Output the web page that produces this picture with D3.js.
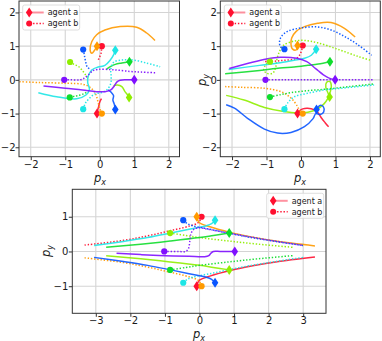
<!DOCTYPE html>
<html><head><meta charset="utf-8">
<script src="https://cdn.jsdelivr.net/npm/d3@7"></script>
<style>body{margin:0;background:#fff}svg{display:block}text{font-family:"DejaVu Sans",sans-serif;fill:#1a1a1a}</style>
</head><body><svg id="c" width="382" height="341"></svg>
<script>
// ---------------- data ----------------
const agents = ["red","orange","yellowgreen","green","cyan","blue","purple"];
const legendLabels = ["agent a","agent b"];
const topTicks = [-2,-1,0,1,2];
const bottomXTicks = [-3,-2,-1,0,1,2,3];
const bottomYTicks = [-1,0,1];

// panel 1 (top-left): agent a paths (solid, start = diamond)
const p1A = [
  [[-0.08,-1.0],[-0.06,-0.9],[-0.03,-0.78],[0.0,-0.66],[0.05,-0.56]],
  [[-0.08,1.0],[-0.15,0.88],[-0.23,0.79],[-0.28,0.89],[-0.23,1.14],[-0.09,1.34],[0.15,1.48],[0.59,1.58],[1.07,1.56],[1.36,1.39],[1.6,1.17]],
  [[0.85,-0.52],[0.8,-0.44],[0.73,-0.35],[0.64,-0.2],[0.51,-0.15],[0.4,-0.17]],
  [[0.86,0.54],[0.64,0.5],[0.45,0.46],[0.32,0.4],[0.2,0.32]],
  [[0.45,0.88],[0.4,0.74],[0.3,0.58],[0.15,0.43],[-0.05,0.38],[-0.22,0.3],[-0.33,0.12],[-0.35,-0.08],[-0.3,-0.28],[-0.4,-0.45],[-0.67,-0.56],[-1.25,-0.5],[-1.78,-0.38]],
  [[0.45,-0.88],[0.42,-0.72],[0.38,-0.6],[0.4,-0.47],[0.33,-0.37],[0.24,-0.3]],
  [[1.0,0.0],[0.8,0.0],[0.59,-0.01],[0.5,-0.06],[0.42,-0.18],[0.32,-0.3],[0.15,-0.35],[-0.1,-0.35],[-0.5,-0.3],[-1.0,-0.25],[-1.63,-0.18]]
];
// panel 1: agent b paths (dotted, start = circle)
const p1B = [
  [[0.06,1.0],[0.05,0.88],[0.03,0.76],[-0.02,0.65],[-0.05,0.57]],
  [[0.06,-1.0],[0.0,-0.85],[-0.06,-0.62],[-0.12,-0.42],[-0.28,-0.22],[-0.5,-0.13],[-0.96,-0.1],[-1.73,-0.08],[-2.4,-0.05]],
  [[-0.86,0.53],[-0.75,0.46],[-0.62,0.4],[-0.48,0.25],[-0.38,0.1],[-0.32,0.04]],
  [[-0.87,-0.52],[-0.7,-0.48],[-0.57,-0.45],[-0.44,-0.4],[-0.33,-0.33]],
  [[-0.48,-0.87],[-0.42,-0.7],[-0.3,-0.55],[-0.15,-0.42],[0.05,-0.38],[0.22,-0.28],[0.32,-0.1],[0.33,0.1],[0.32,0.3],[0.4,0.52],[0.65,0.59],[0.97,0.59],[1.35,0.5],[1.75,0.39]],
  [[-0.48,0.9],[-0.45,0.76],[-0.43,0.64],[-0.4,0.5],[-0.36,0.38],[-0.25,0.3]],
  [[-1.03,0.0],[-0.8,0.0],[-0.57,0.0],[-0.45,0.05],[-0.33,0.15],[-0.2,0.27],[-0.05,0.31],[0.39,0.3],[0.88,0.25],[1.2,0.23],[1.63,0.21]]
];

// panel 2 (top-right)
const p2A = [
  [[-0.1,-1.0],[-0.04,-0.92],[0.05,-0.86],[0.19,-0.84],[0.39,-0.89],[0.5,-0.98],[0.6,-1.14],[0.7,-1.27],[0.8,-1.39]],
  [[-0.1,1.02],[-0.14,0.89],[-0.25,0.92],[-0.29,1.05],[-0.27,1.24],[-0.14,1.44],[0.1,1.58],[0.48,1.68],[0.87,1.7],[1.26,1.53],[1.57,1.27]],
  [[0.83,-0.51],[0.78,-0.38],[0.72,-0.22],[0.74,-0.08],[0.84,-0.05],[0.88,-0.18],[0.85,-0.35],[0.78,-0.55],[0.66,-0.72],[0.45,-0.88],[0.2,-0.96],[-0.1,-0.98],[-0.5,-0.94],[-1.06,-0.82],[-1.65,-0.6],[-2.17,-0.46]],
  [[0.84,0.54],[0.5,0.47],[0.2,0.43],[-0.2,0.38],[-0.61,0.35],[-1.2,0.28],[-2.2,0.18]],
  [[0.44,0.91],[0.3,0.73],[0.1,0.64],[-0.2,0.58],[-0.6,0.51],[-1.2,0.43],[-2.1,0.31]],
  [[0.45,-0.88],[0.55,-0.76],[0.65,-0.8],[0.66,-0.95],[0.56,-1.03],[0.43,-1.0],[0.35,-1.15],[0.1,-1.39],[-0.29,-1.56],[-0.68,-1.58],[-1.06,-1.46],[-1.55,-1.14],[-1.93,-0.84],[-2.17,-0.74]],
  [[0.99,0.0],[0.8,0.06],[0.65,0.15],[0.5,0.27],[0.36,0.39],[0.17,0.54],[-0.12,0.64],[-0.6,0.67],[-1.0,0.62],[-1.5,0.5],[-2.08,0.34]]
];
const p2B = [
  [[0.05,1.02],[0.02,0.88],[-0.05,0.72],[-0.15,0.63],[-0.5,0.58],[-0.8,0.55],[-1.1,0.54]],
  [[0.05,-1.0],[-0.04,-0.9],[-0.1,-0.79],[-0.29,-0.54],[-0.58,-0.35],[-1.06,-0.25],[-1.74,-0.22],[-2.2,-0.2]],
  [[-0.9,0.54],[-1.02,0.45],[-1.08,0.3],[-1.0,0.2],[-0.82,0.2],[-0.74,0.35],[-0.7,0.6],[-0.62,0.85],[-0.5,1.03],[-0.2,1.15],[0.1,1.17],[0.48,1.1],[1.06,0.91],[1.64,0.7],[2.05,0.57]],
  [[-0.9,-0.51],[-0.6,-0.44],[-0.29,-0.38],[0.2,-0.32],[0.68,-0.28],[1.4,-0.2],[2.12,-0.12]],
  [[-0.48,-0.87],[-0.39,-0.69],[-0.19,-0.5],[0.19,-0.4],[0.68,-0.3],[1.16,-0.25],[2.12,-0.15]],
  [[-0.48,0.91],[-0.6,0.99],[-0.62,1.15],[-0.56,1.3],[-0.39,1.44],[0.0,1.54],[0.48,1.57],[0.87,1.48],[1.26,1.29],[1.64,1.05],[2.05,0.73]],
  [[-1.03,0.0],[-0.5,0.0],[0.0,0.0],[0.5,0.0],[1.0,0.0],[1.5,0.0],[2.1,0.0]]
];

// panel 3 (bottom)
const p3A = [
  [[-0.08,-1.0],[-0.05,-0.9],[0.01,-0.82],[0.3,-0.71],[0.88,-0.55],[1.5,-0.42],[2.2,-0.3],[3.34,-0.16]],
  [[-0.08,1.0],[-0.05,0.9],[0.01,0.82],[0.3,0.71],[0.88,0.55],[1.5,0.42],[2.2,0.3],[3.34,0.16]],
  [[0.86,-0.53],[0.4,-0.46],[0.0,-0.4],[-0.85,-0.3],[-1.7,-0.21],[-2.7,-0.12]],
  [[0.86,0.53],[0.4,0.46],[0.0,0.4],[-0.85,0.3],[-1.7,0.21],[-2.7,0.12]],
  [[0.45,0.9],[0.35,0.8],[0.2,0.74],[-0.3,0.64],[-0.88,0.52],[-1.5,0.4],[-2.2,0.29],[-3.05,0.17]],
  [[0.45,-0.9],[0.35,-0.8],[0.2,-0.74],[-0.3,-0.64],[-0.88,-0.52],[-1.5,-0.4],[-2.2,-0.29],[-3.05,-0.17]],
  [[1.02,0.0],[0.6,0.0],[0.4,0.0],[0.33,-0.05],[0.27,-0.12],[0.15,-0.15],[-0.3,-0.14],[-1.0,-0.12],[-1.7,-0.09],[-2.4,-0.05]]
];
const p3B = [
  [[0.06,1.0],[0.02,0.9],[-0.05,0.82],[-0.3,0.73],[-0.88,0.59],[-1.5,0.45],[-2.2,0.32],[-3.36,0.18]],
  [[0.06,-1.0],[0.02,-0.9],[-0.05,-0.82],[-0.3,-0.73],[-0.88,-0.59],[-1.5,-0.45],[-2.2,-0.32],[-3.36,-0.18]],
  [[-0.85,0.53],[-0.4,0.46],[0.0,0.4],[0.86,0.3],[1.7,0.21],[2.7,0.12]],
  [[-0.85,-0.53],[-0.4,-0.46],[0.0,-0.4],[0.86,-0.3],[1.7,-0.21],[2.7,-0.12]],
  [[-0.47,-0.9],[-0.35,-0.8],[-0.2,-0.74],[0.3,-0.64],[0.88,-0.52],[1.5,-0.4],[2.2,-0.29],[3.0,-0.17]],
  [[-0.47,0.9],[-0.35,0.8],[-0.2,0.74],[0.3,0.64],[0.88,0.52],[1.5,0.4],[2.2,0.29],[3.0,0.17]],
  [[-1.02,0.0],[-0.6,0.0],[-0.4,0.0],[-0.32,0.08],[-0.28,0.3],[-0.25,0.5],[-0.18,0.62],[-0.05,0.68],[0.3,0.63],[1.0,0.5],[2.0,0.33],[3.0,0.17]]
];

// ---------------- styles / layout ----------------
const palette = {red:"#ff1030",orange:"#ff9a00",yellowgreen:"#8fee00",green:"#0fdd2c",cyan:"#1de6e6",blue:"#0a55ff",purple:"#8010ff"};
const panels = [
  {x0:19,x1:179.5,y0:1,y1:156.7,xd:[-2.34,2.31],yd:[-2.28,2.34],xt:topTicks,yt:topTicks,A:p1A,B:p1B,
   xl:[100,182],yl:null,leg:[22.7,5]},
  {x0:220.3,x1:380.3,y0:1,y1:156.7,xd:[-2.34,2.30],yd:[-2.28,2.34],xt:topTicks,yt:topTicks,A:p2A,B:p2B,
   xl:[300,182],yl:[205.5,80],leg:[224.3,5]},
  {x0:72.3,x1:326,y0:189.3,y1:313.3,xd:[-3.68,3.66],yd:[-1.78,1.79],xt:bottomXTicks,yt:bottomYTicks,A:p3A,B:p3B,
   xl:[199,337.5],yl:[50,251],leg:[266.7,193.3]}
];

const svg = d3.select("#c");
const fmt = v => v < 0 ? "\u2212" + Math.abs(v) : String(v);
const diamond = (s) => { const w = s*0.33, h = s*0.5; return `M0,${-h}L${w},0L0,${h}L${-w},0Z`; };

panels.forEach((p, pi) => {
  const x = d3.scaleLinear().domain(p.xd).range([p.x0, p.x1]);
  const y = d3.scaleLinear().domain(p.yd).range([p.y1, p.y0]);
  const g = svg.append("g");
  const cid = "clip" + pi;
  svg.append("clipPath").attr("id", cid).append("rect")
    .attr("x", p.x0).attr("y", p.y0).attr("width", p.x1 - p.x0).attr("height", p.y1 - p.y0);

  // grid
  g.selectAll(".gx").data(p.xt).join("line").attr("x1", d => x(d)).attr("x2", d => x(d))
    .attr("y1", p.y0).attr("y2", p.y1).attr("stroke", "#d4d4d4").attr("stroke-width", 1.1);
  g.selectAll(".gy").data(p.yt).join("line").attr("y1", d => y(d)).attr("y2", d => y(d))
    .attr("x1", p.x0).attr("x2", p.x1).attr("stroke", "#d4d4d4").attr("stroke-width", 1.1);

  // axes
  const xa = d3.axisBottom(x).tickValues(p.xt).tickFormat(fmt).tickSize(3.5).tickPadding(0.5);
  const ya = d3.axisLeft(y).tickValues(p.yt).tickFormat(fmt).tickSize(3.5).tickPadding(pi === 2 ? 0.5 : 0);
  const gx = g.append("g").attr("transform", `translate(0,${p.y1})`).call(xa);
  const gy = g.append("g").attr("transform", `translate(${p.x0},0)`).call(ya);
  [gx, gy].forEach(a => {
    a.select(".domain").remove();
    a.selectAll("line").attr("stroke", "#333");
    a.selectAll("text").attr("font-size", 10).attr("font-family", "DejaVu Sans").attr("fill", "#1a1a1a");
  });

  // trajectories
  const line = d3.line().x(d => x(d[0])).y(d => y(d[1])).curve(d3.curveCatmullRom.alpha(0.5));
  const tg = g.append("g").attr("clip-path", `url(#${cid})`);
  agents.forEach((name, i) => {
    tg.append("path").attr("d", line(p.B[i])).attr("fill", "none").attr("stroke", palette[name])
      .attr("stroke-width", 1.5).attr("stroke-dasharray", "1.4,1.8").attr("opacity", 0.95);
    tg.append("path").attr("d", line(p.A[i])).attr("fill", "none").attr("stroke", palette[name])
      .attr("stroke-width", 1.5).attr("opacity", 0.9);
  });
  agents.forEach((name, i) => {
    const a0 = p.A[i][0], b0 = p.B[i][0];
    tg.append("path").attr("d", diamond(10)).attr("transform", `translate(${x(a0[0])},${y(a0[1])})`)
      .attr("fill", palette[name]);
    tg.append("circle").attr("cx", x(b0[0])).attr("cy", y(b0[1])).attr("r", 3.1).attr("fill", palette[name]);
  });

  // frame
  g.append("rect").attr("x", p.x0).attr("y", p.y0).attr("width", p.x1 - p.x0).attr("height", p.y1 - p.y0)
    .attr("fill", "none").attr("stroke", "#333").attr("stroke-width", 1);

  // axis labels
  const xl = g.append("text").attr("x", p.xl[0]).attr("y", p.xl[1]).attr("text-anchor", "middle").attr("font-size", 11.5);
  xl.append("tspan").attr("font-style", "italic").text("p");
  xl.append("tspan").attr("font-style", "italic").attr("font-size", 8).attr("dy", 3).text("x");
  if (p.yl) {
    const yl = g.append("text").attr("transform", `translate(${p.yl[0]},${p.yl[1]}) rotate(-90)`)
      .attr("text-anchor", "middle").attr("font-size", 11.5);
    yl.append("tspan").attr("font-style", "italic").text("p");
    yl.append("tspan").attr("font-style", "italic").attr("font-size", 8).attr("dy", 3).text("y");
  }

  // legend
  const [lx, ly] = p.leg;
  const lg = g.append("g").attr("transform", `translate(${lx},${ly})`);
  lg.append("rect").attr("width", 57).attr("height", 25).attr("rx", 2).attr("fill", "#fff")
    .attr("fill-opacity", 0.85).attr("stroke", "#d6d6d6").attr("stroke-width", 0.8);
  legendLabels.forEach((lab, k) => {
    const ry = 7.5 + k * 11;
    const ln = lg.append("line").attr("x1", 4).attr("x2", 21).attr("y1", ry).attr("y2", ry)
      .attr("stroke", palette.red);
    if (k === 0) {
      ln.attr("stroke-width", 2).attr("opacity", 0.45);
      lg.append("path").attr("d", diamond(10)).attr("transform", `translate(6.5,${ry})`).attr("fill", palette.red);
    } else {
      ln.attr("stroke-width", 1.4).attr("stroke-dasharray", "1.4,1.8");
      lg.append("circle").attr("cx", 6.5).attr("cy", ry).attr("r", 3).attr("fill", palette.red);
    }
    lg.append("text").attr("x", 25).attr("y", ry + 2.9).attr("font-size", 8).text(lab);
  });
});
</script></body></html>
